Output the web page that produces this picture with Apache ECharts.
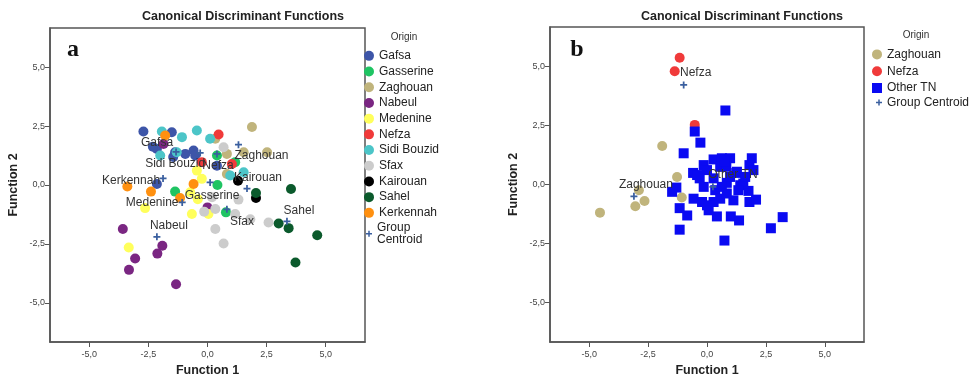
<!DOCTYPE html>
<html>
<head>
<meta charset="utf-8">
<script src="https://cdn.jsdelivr.net/npm/echarts@6/dist/echarts.min.js"></script>
<style>
html, body { margin: 0; background: #fff; }
#main { width: 979px; height: 379px; }
</style>
</head>
<body>
<div id="main"></div>
<script>
// panel a : groups
var groupNames = ['Gafsa', 'Gasserine', 'Zaghouan', 'Nabeul', 'Medenine', 'Nefza', 'Sidi Bouzid', 'Sfax', 'Kairouan', 'Sahel', 'Kerkennah'];
var groupColors = ['#3d55a8', '#1fc463', '#c0b47c', '#7a2682', '#ffff5c', '#f03a3a', '#4cc5c8', '#cccccc', '#000000', '#0b5a2c', '#ff9010'];

var gafsa = [[-2.71, 2.27], [-1.51, 2.24], [-2.14, 1.53], [-1.37, 1.39], [-0.94, 1.32], [-0.59, 1.46], [-0.52, 1.25], [-1.45, 1.19], [0.40, 0.82], [-2.14, 0.04], [-2.31, 1.62]];
var gasserine = [[0.40, 1.25], [1.17, 0.97], [-1.37, -0.28], [0.42, 0.0], [0.78, -1.16]];
var zaghouan = [[1.88, 2.46], [0.33, 1.96], [0.82, 1.32], [1.53, 1.39], [2.52, 1.39], [0.82, 0.47]];
var nabeul = [[-1.86, 1.74], [0.0, -0.95], [-3.58, -1.87], [-1.91, -2.58], [-2.12, -2.91], [-3.06, -3.12], [-3.32, -3.60], [-1.33, -4.21]];
var medenine = [[-0.45, 0.61], [-0.24, 0.26], [-0.73, -0.31], [-0.41, -0.60], [-2.64, -0.98], [-0.66, -1.23], [0.04, -1.23], [-3.33, -2.65]];
var nefza = [[0.47, 2.14], [-0.24, 0.97], [1.03, 0.89]];
var sidiBouzid = [[-1.93, 2.27], [-1.08, 2.03], [-0.45, 2.31], [0.11, 1.96], [-2.0, 1.25], [0.96, 0.40], [1.53, 0.54], [-1.30, 1.39]];
var sfax = [[0.68, 1.60], [0.19, -0.52], [1.31, -0.62], [-0.14, -1.13], [0.33, -1.02], [1.17, -1.23], [1.81, -1.45], [2.58, -1.59], [0.33, -1.87], [0.68, -2.48]];
var kairouan = [[1.29, 0.18], [2.05, -0.55]];
var sahel = [[2.05, -0.34], [3.53, -0.17], [3.01, -1.63], [3.43, -1.83], [4.64, -2.13], [3.72, -3.29]];
var kerkennah = [[-1.79, 2.10], [-3.39, -0.06], [-2.39, -0.28], [-0.59, 0.04], [-1.16, -0.55]];
var centroidA = [[-1.33, 1.40], [0.11, 0.11], [1.31, 1.71], [-2.14, -2.20], [-1.07, -0.74], [0.40, 1.32], [-0.31, 1.36], [0.82, -1.03], [1.67, -0.15], [3.36, -1.54], [-1.88, 0.28]];

// panel b
var namesB = ['Zaghouan', 'Nefza', 'Other TN'];
var zaghouanB = [[-1.90, 1.63], [-1.27, 0.32], [-2.89, -0.24], [-2.65, -0.70], [-3.04, -0.92], [-1.07, -0.55], [-4.54, -1.19]];
var nefzaB = [[-1.16, 5.36], [-1.37, 4.79], [-0.52, 2.52]];
var otherTN = [[0.78, 3.13], [-0.52, 2.24], [-0.99, 1.32], [-0.28, 1.77], [-0.59, 0.49], [-0.14, 0.82], [0.28, 1.06], [0.63, 1.11],
  [0.98, 1.11], [1.90, 1.11], [1.80, 0.82], [1.97, 0.61], [0, 0.61], [0.56, 0.75], [1.24, 0.49], [-0.31, 0.26], [0.28, 0.26],
  [0.84, 0.07], [1.41, -0.03], [-1.30, -0.13], [-1.48, -0.31], [-0.14, -0.10], [0.35, -0.24], [1.76, -0.27], [-0.57, -0.60],
  [-0.21, -0.74], [0.56, -0.60], [1.12, -0.67], [1.80, -0.74], [2.08, -0.64], [0.07, -1.09], [0.42, -1.35], [-1.16, -1.00],
  [-0.84, -1.31], [1.01, -1.35], [1.36, -1.52], [-1.16, -1.91], [0.74, -2.37], [2.71, -1.85], [3.21, -1.38], [0.63, -0.10],
  [0.98, 0.32], [1.54, 0.04], [1.33, -0.24], [0.84, -0.38], [0.28, -0.74], [0, -0.88], [1.27, 0.54], [1.62, 0.32],
  [-0.42, 0.40], [0.82, 0.75], [0.75, 0.96]];
var centroidB = [[-3.10, -0.50], [-0.99, 4.21], [0.25, -0.10]];

var ticks = [-5, -2.5, 0, 2.5, 5];

// label offsets (px) for the centroid names
var offA = [[-19, -9], [2, 13], [23, 11], [12, -11], [-30, 0], [1, 12], [-25, 11], [15, 12], [11, -11], [12, -11], [-32, 2]];
var offB = [[12, -12], [12, -12], [20, -12]];

var FONT = '"Liberation Sans", Arial, sans-serif';
var plus = 'path://M-1,-4L1,-4L1,-1L4,-1L4,1L1,1L1,4L-1,4L-1,1L-4,1L-4,-1L-1,-1Z';
var centroidColor = '#3a5f9f';

var myChart = echarts.init(document.getElementById('main'));

function fmt(v) {
	return v.toFixed(1).replace('.', ',');
}

function axis(idx, name, isX) {
	return {
		gridIndex: idx,
		type: 'value',
		min: -6.66,
		max: 6.66,
		name: name,
		nameLocation: 'middle',
		nameGap: isX ? 22 : 30,
		nameTextStyle: {fontFamily: FONT, fontWeight: 'bold', fontSize: 12.5, color: '#222'},
		axisLine: {show: true, onZero: false, lineStyle: {color: '#555', width: 1.5}},
		axisTick: {show: true, customValues: ticks, length: 5, lineStyle: {color: '#555'}},
		axisLabel: {customValues: ticks, formatter: fmt, fontFamily: FONT, fontSize: 9, color: '#444', margin: isX ? 8 : 5},
		splitLine: {show: false}
	};
}

function centroidSeries(idx, pts, names, offs) {
	var d = [];
	for (var i = 0; i < pts.length; i++) {
		d.push({
			name: names[i],
			value: pts[i],
			label: {offset: offs[i]}
		});
	}
	return {
		name: 'Group Centroid',
		type: 'scatter',
		xAxisIndex: idx,
		yAxisIndex: idx,
		symbol: plus,
		symbolSize: 7,
		itemStyle: {color: centroidColor, opacity: 1},
		z: 5,
		label: {
			show: true,
			position: 'inside',
			align: 'center',
			verticalAlign: 'middle',
			formatter: '{b}',
			fontFamily: FONT,
			fontSize: 12,
			color: '#333'
		},
		data: d
	};
}

function pointSeries(name, idx, pts, color, symbol) {
	return {
		name: name,
		type: 'scatter',
		xAxisIndex: idx,
		yAxisIndex: idx,
		symbol: symbol || 'circle',
		symbolSize: 10,
		itemStyle: {color: color, opacity: 1},
		data: pts
	};
}

var groupsA = [gafsa, gasserine, zaghouan, nabeul, medenine, nefza, sidiBouzid, sfax, kairouan, sahel, kerkennah];
var series = [];
groupsA.forEach(function (pts, i) {
	series.push(pointSeries(groupNames[i], 0, pts, groupColors[i]));
});
series.push(centroidSeries(0, centroidA, groupNames, offA));

series.push(pointSeries('Zaghouan', 1, zaghouanB, groupColors[2]));
series.push(pointSeries('Nefza', 1, nefzaB, groupColors[5]));
series.push(pointSeries('Other TN', 1, otherTN, '#0a0af2', 'rect'));
series.push(centroidSeries(1, centroidB, namesB, offB));

var legendText = {fontFamily: FONT, fontSize: 12, color: '#222'};

var option = {
	animation: false,
	grid: [
		{left: 50, top: 28, width: 315, height: 314, show: true, borderColor: '#555', borderWidth: 1.5, outerBoundsMode: 'none', containLabel: false},
		{left: 550, top: 27, width: 314, height: 315, show: true, borderColor: '#555', borderWidth: 1.5, outerBoundsMode: 'none', containLabel: false}
	],
	xAxis: [axis(0, 'Function 1', true), axis(1, 'Function 1', true)],
	yAxis: [axis(0, 'Function 2', false), axis(1, 'Function 2', false)],
	legend: [
		{
			orient: 'vertical', left: 364, top: 48, padding: 0,
			itemWidth: 10, itemHeight: 10, itemGap: 0,
			icon: 'circle',
			data: groupNames,
			textStyle: Object.assign({lineHeight: 15.7}, legendText),
			selectedMode: false
		},
		{
			orient: 'vertical', left: 366, top: 222, padding: 0,
			itemWidth: 6, itemHeight: 6, itemGap: 0,
			data: [{name: 'Group Centroid', icon: plus}],
			formatter: function (n) { return 'Group\nCentroid'; },
			textStyle: Object.assign({lineHeight: 11.5}, legendText),
			selectedMode: false
		},
		{
			orient: 'vertical', left: 872, top: 46, padding: 0,
			itemWidth: 10, itemHeight: 10, itemGap: 0,
			data: [{name: 'Zaghouan', icon: 'circle'}, {name: 'Nefza', icon: 'circle'}, {name: 'Other TN', icon: 'rect'}],
			textStyle: Object.assign({lineHeight: 16.8}, legendText),
			selectedMode: false
		},
		{
			orient: 'vertical', left: 876, top: 95, padding: 0,
			itemWidth: 6, itemHeight: 6, itemGap: 0,
			data: [{name: 'Group Centroid', icon: plus}],
			textStyle: Object.assign({lineHeight: 15}, legendText),
			selectedMode: false
		}
	],
	graphic: [
		{type: 'text', x: 243, y: 17, style: {text: 'Canonical Discriminant Functions', font: 'bold 12.5px "Liberation Sans", Arial', fill: '#222', align: 'center', verticalAlign: 'middle'}},
		{type: 'text', x: 742, y: 17, style: {text: 'Canonical Discriminant Functions', font: 'bold 12.5px "Liberation Sans", Arial', fill: '#222', align: 'center', verticalAlign: 'middle'}},
		{type: 'text', x: 73, y: 50, style: {text: 'a', font: 'bold 24px "Liberation Serif", serif', fill: '#111', align: 'center', verticalAlign: 'middle'}},
		{type: 'text', x: 577, y: 50, style: {text: 'b', font: 'bold 24px "Liberation Serif", serif', fill: '#111', align: 'center', verticalAlign: 'middle'}},
		{type: 'text', x: 404, y: 37, style: {text: 'Origin', font: '10px "Liberation Sans", Arial', fill: '#333', align: 'center', verticalAlign: 'middle'}},
		{type: 'text', x: 916, y: 35, style: {text: 'Origin', font: '10px "Liberation Sans", Arial', fill: '#333', align: 'center', verticalAlign: 'middle'}}
	],
	series: series
};

myChart.setOption(option);
</script>
</body>
</html>
